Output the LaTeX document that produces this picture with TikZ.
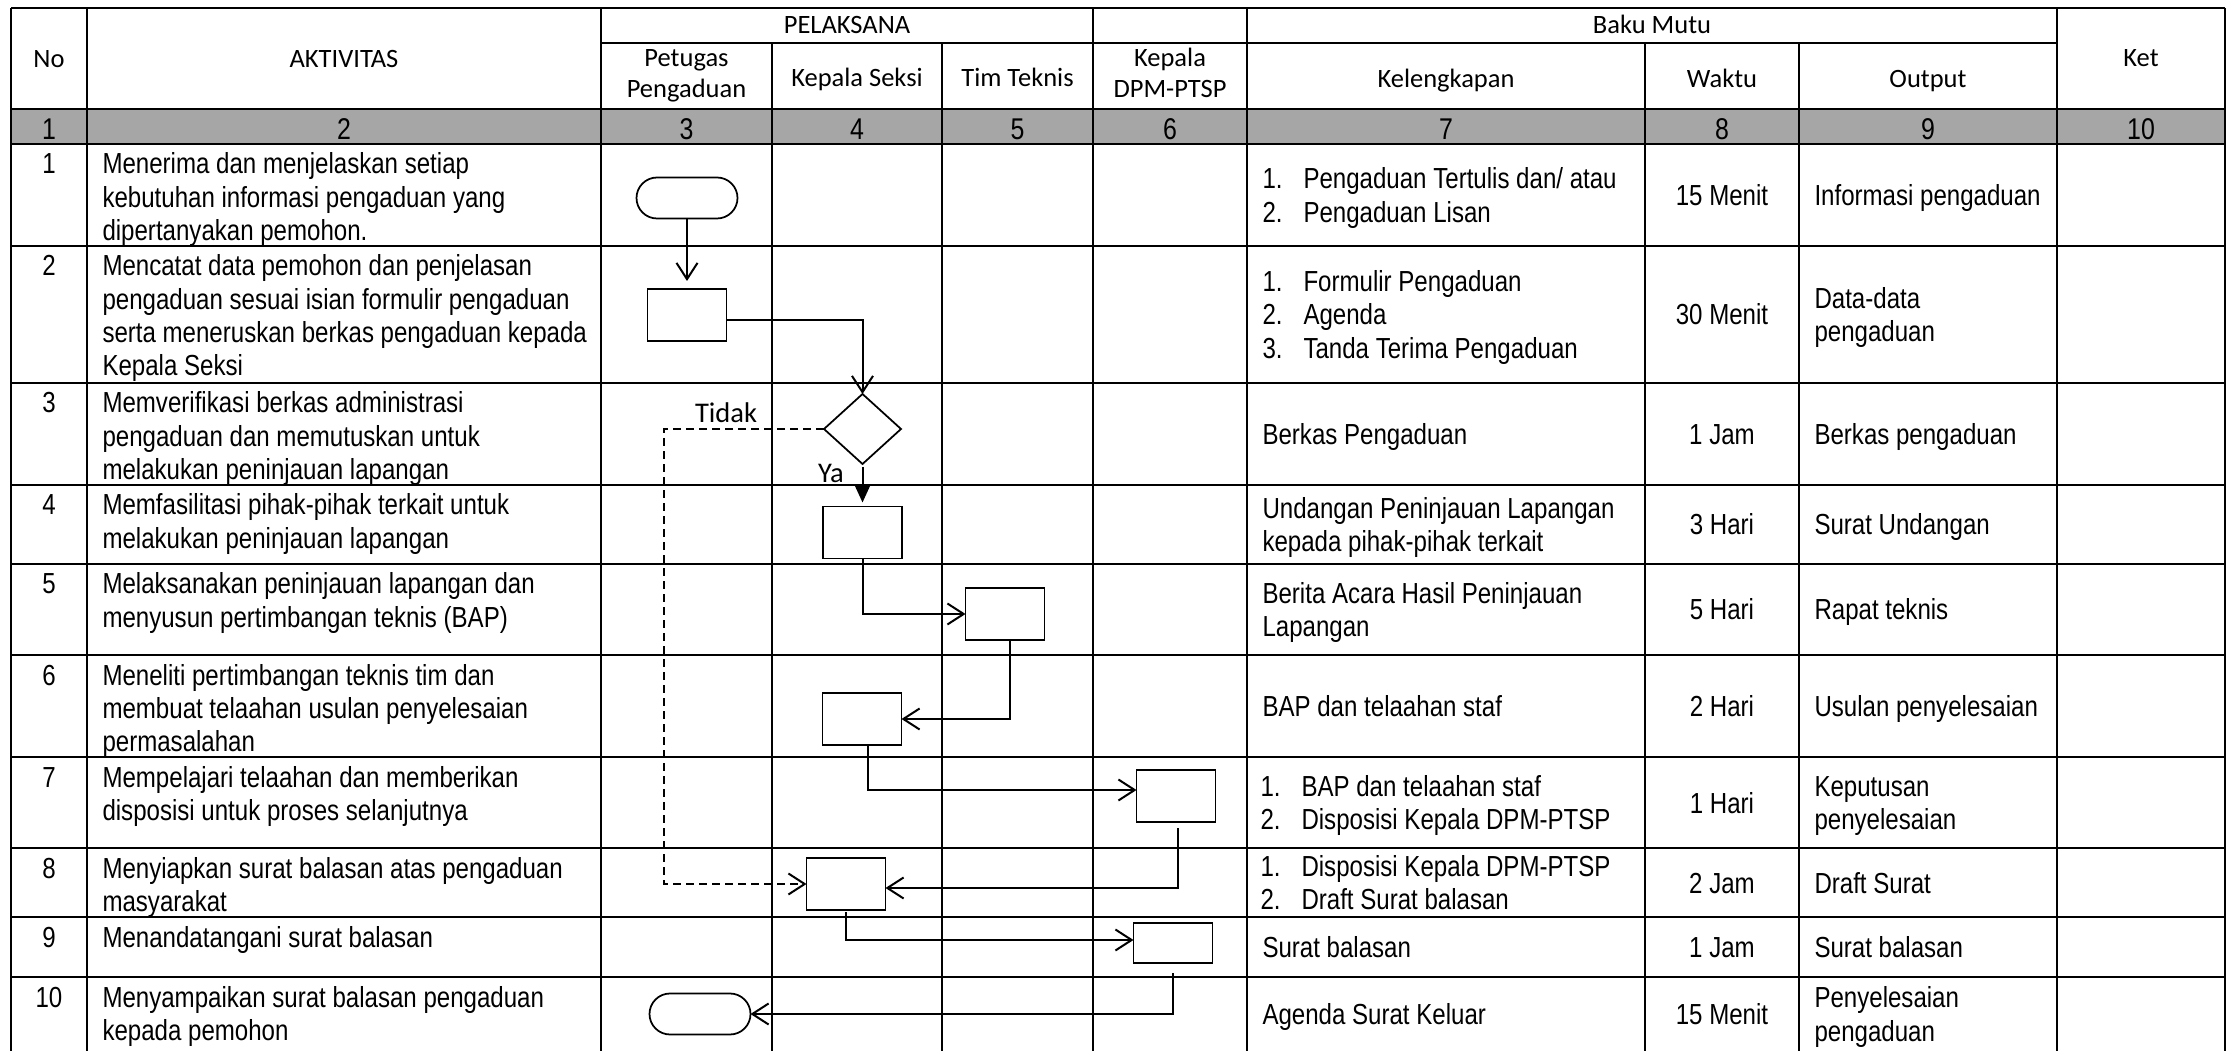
\documentclass[tikz,border=0pt]{standalone}
\usepackage{fontspec}
\setmainfont{Liberation Sans}
\newfontfamily\bodyfont{Liberation Sans}[FakeStretch=0.83]
\newfontfamily\hdrfont{Carlito}
\usetikzlibrary{arrows.meta,shapes.geometric}
\definecolor{hdrgray}{HTML}{A6A6A6}
\newcommand\mylbox[1]{\parbox[t]{240pt}{\raggedright #1}}
\newcommand\myclbox[1]{\parbox[t]{80pt}{\centering #1}}
\newcommand\mynum[1]{\makebox[16.4pt][l]{#1}}
\begin{document}
\begin{tikzpicture}[x=0.4pt,y=-0.4pt,
  gridline/.style={line width=0.95pt},
  shp/.style={draw, line width=0.7pt, inner sep=0pt, outer sep=0pt},
  pbox/.style={shp, rectangle, minimum width=31.6pt, minimum height=20.8pt},
  term/.style={shp, rectangle, rounded corners=8.2pt, minimum width=40.4pt, minimum height=16.4pt},
  dec/.style={shp, diamond, minimum width=30.8pt, minimum height=28pt},
  conn/.style={line width=0.8pt, -{Straight Barb[length=6.5pt,width=8.4pt]}},
  yesarrow/.style={line width=0.8pt, -{Triangle[length=6.8pt,width=6pt]}},
  dsh/.style={conn, dash pattern=on 3.2pt off 2pt},
  bt/.style={font=\bodyfont\fontsize{11.6}{13.3}\selectfont, inner sep=0pt},
  nt/.style={font=\bodyfont\fontsize{12}{13.3}\selectfont, inner sep=0pt},
  ht/.style={font=\hdrfont\fontsize{10.6}{12.4}\selectfont, inner sep=0pt},
  lt/.style={font=\hdrfont\fontsize{11.4}{13}\selectfont, inner sep=0pt}]
\useasboundingbox (0,0) rectangle (2234,1051);
% gray number row
\fill[hdrgray] (11,109) rectangle (2225,144);
% vertical grid lines
\foreach \xx in {11,87,601,1093,1247,2057,2225}
  \draw[gridline] (\xx,8) -- (\xx,1051);
\foreach \xx in {772,942,1645,1799}
  \draw[gridline] (\xx,43) -- (\xx,1051);
% horizontal grid lines
\draw[gridline] (601,43) -- (2057,43);
\foreach \yy in {8,109,144,246,383,485,564,655,757,848,917,977}
  \draw[gridline] (11,\yy) -- (2225,\yy);

% header texts
\node[ht, anchor=base] (hno) at (49,68) {No};
\node[ht, anchor=base] (hakt) at (344,68) {AKTIVITAS};
\node[ht, anchor=base] (hpel) at (847,34) {PELAKSANA};
\node[ht, anchor=base] (hbaku) at (1652,34) {Baku Mutu};
\node[ht, anchor=base] (hpet) at (686.5,67) {\myclbox{Petugas\\Pengaduan}};
\node[ht, anchor=base] (hkas) at (857,87) {Kepala Seksi};
\node[ht, anchor=base] (htim) at (1017.5,87) {Tim Teknis};
\node[ht, anchor=base] (hdpm) at (1170,67) {\myclbox{Kepala\\DPM-PTSP}};
\node[ht, anchor=base] (hkel) at (1446,88) {Kelengkapan};
\node[ht, anchor=base] (hwak) at (1722,88) {Waktu};
\node[ht, anchor=base] (hout) at (1928,88) {Output};
\node[ht, anchor=base] (hket) at (2141,67) {Ket};

% number row
\node[nt, anchor=base] (c1) at (49,140) {1};
\node[nt, anchor=base] (c2) at (344,140) {2};
\node[nt, anchor=base] (c3) at (686.5,140) {3};
\node[nt, anchor=base] (c4) at (857,140) {4};
\node[nt, anchor=base] (c5) at (1017.5,140) {5};
\node[nt, anchor=base] (c6) at (1170,140) {6};
\node[nt, anchor=base] (c7) at (1446,140) {7};
\node[nt, anchor=base] (c8) at (1722,140) {8};
\node[nt, anchor=base] (c9) at (1928,140) {9};
\node[nt, anchor=base] (c10) at (2141,140) {10};

% row numbers
\node[bt, anchor=base] (n1) at (49,174) {1};
\node[bt, anchor=base] (n2) at (49,276) {2};
\node[bt, anchor=base] (n3) at (49,413) {3};
\node[bt, anchor=base] (n4) at (49,515) {4};
\node[bt, anchor=base] (n5) at (49,594) {5};
\node[bt, anchor=base] (n6) at (49,685) {6};
\node[bt, anchor=base] (n7) at (49,787) {7};
\node[bt, anchor=base] (n8) at (49,878) {8};
\node[bt, anchor=base] (n9) at (49,947) {9};
\node[bt, anchor=base] (n10) at (49,1007) {10};

% activities
\node[bt, anchor=base west] (a1) at (102,174) {\mylbox{Menerima dan menjelaskan setiap\\kebutuhan informasi pengaduan yang\\dipertanyakan pemohon.}};
\node[bt, anchor=base west] (a2) at (102,276) {\mylbox{Mencatat data pemohon dan penjelasan\\pengaduan sesuai isian formulir pengaduan\\serta meneruskan berkas pengaduan kepada\\Kepala Seksi}};
\node[bt, anchor=base west] (a3) at (102,413) {\mylbox{Memverifikasi berkas administrasi\\pengaduan dan memutuskan untuk\\melakukan peninjauan lapangan}};
\node[bt, anchor=base west] (a4) at (102,515) {\mylbox{Memfasilitasi pihak-pihak terkait untuk\\melakukan peninjauan lapangan}};
\node[bt, anchor=base west] (a5) at (102,594) {\mylbox{Melaksanakan peninjauan lapangan dan\\menyusun pertimbangan teknis (BAP)}};
\node[bt, anchor=base west] (a6) at (102,685) {\mylbox{Meneliti pertimbangan teknis tim dan\\membuat telaahan usulan penyelesaian\\permasalahan}};
\node[bt, anchor=base west] (a7) at (102,787) {\mylbox{Mempelajari telaahan dan memberikan\\disposisi untuk proses selanjutnya}};
\node[bt, anchor=base west] (a8) at (102,878) {\mylbox{Menyiapkan surat balasan atas pengaduan\\masyarakat}};
\node[bt, anchor=base west] (a9) at (102,947) {\mylbox{Menandatangani surat balasan}};
\node[bt, anchor=base west] (a10) at (102,1007) {\mylbox{Menyampaikan surat balasan pengaduan\\kepada pemohon}};

% kelengkapan
\node[bt, anchor=base west] (k1) at (1262,189) {\mylbox{\mynum{1.}Pengaduan Tertulis dan/ atau\\\mynum{2.}Pengaduan Lisan}};
\node[bt, anchor=base west] (k2) at (1262,291.7) {\mylbox{\mynum{1.}Formulir Pengaduan\\\mynum{2.}Agenda\\\mynum{3.}Tanda Terima Pengaduan}};
\node[bt, anchor=base west] (k3) at (1262,444.5) {\mylbox{Berkas Pengaduan}};
\node[bt, anchor=base west] (k4) at (1262,518.4) {\mylbox{Undangan Peninjauan Lapangan\\kepada pihak-pihak terkait}};
\node[bt, anchor=base west] (k5) at (1262,603.4) {\mylbox{Berita Acara Hasil Peninjauan\\Lapangan}};
\node[bt, anchor=base west] (k6) at (1262,716.5) {\mylbox{BAP dan telaahan staf}};
\node[bt, anchor=base west] (k7) at (1260,796.4) {\mylbox{\mynum{1.}BAP dan telaahan staf\\\mynum{2.}Disposisi Kepala DPM-PTSP}};
\node[bt, anchor=base west] (k8) at (1260,876.4) {\mylbox{\mynum{1.}Disposisi Kepala DPM-PTSP\\\mynum{2.}Draft Surat balasan}};
\node[bt, anchor=base west] (k9) at (1262,957.5) {\mylbox{Surat balasan}};
\node[bt, anchor=base west] (k10) at (1262,1024.5) {\mylbox{Agenda Surat Keluar}};

% waktu
\node[bt, anchor=base] (w1) at (1722,205.5) {15 Menit};
\node[bt, anchor=base] (w2) at (1722,325) {30 Menit};
\node[bt, anchor=base] (w3) at (1722,444.5) {1 Jam};
\node[bt, anchor=base] (w4) at (1722,535) {3 Hari};
\node[bt, anchor=base] (w5) at (1722,620) {5 Hari};
\node[bt, anchor=base] (w6) at (1722,716.5) {2 Hari};
\node[bt, anchor=base] (w7) at (1722,813) {1 Hari};
\node[bt, anchor=base] (w8) at (1722,893) {2 Jam};
\node[bt, anchor=base] (w9) at (1722,957.5) {1 Jam};
\node[bt, anchor=base] (w10) at (1722,1024.5) {15 Menit};

% output
\node[bt, anchor=base west] (o1) at (1814,205.5) {\mylbox{Informasi pengaduan}};
\node[bt, anchor=base west] (o2) at (1814,308.4) {\mylbox{Data-data\\pengaduan}};
\node[bt, anchor=base west] (o3) at (1814,444.5) {\mylbox{Berkas pengaduan}};
\node[bt, anchor=base west] (o4) at (1814,535) {\mylbox{Surat Undangan}};
\node[bt, anchor=base west] (o5) at (1814,620) {\mylbox{Rapat teknis}};
\node[bt, anchor=base west] (o6) at (1814,716.5) {\mylbox{Usulan penyelesaian}};
\node[bt, anchor=base west] (o7) at (1814,796.4) {\mylbox{Keputusan\\penyelesaian}};
\node[bt, anchor=base west] (o8) at (1814,893) {\mylbox{Draft Surat}};
\node[bt, anchor=base west] (o9) at (1814,957.5) {\mylbox{Surat balasan}};
\node[bt, anchor=base west] (o10) at (1814,1007.9) {\mylbox{Penyelesaian\\pengaduan}};

% flowchart shapes
\node[term] (t1) at (687,198) {};
\node[pbox] (r2) at (687,315) {};
\node[dec] (d3) at (862.5,429) {};
\node[pbox] (r4) at (862.5,532.5) {};
\node[pbox] (r5) at (1005,614) {};
\node[pbox] (r6) at (862,719) {};
\node[pbox] (r7) at (1176,796) {};
\node[pbox] (r8) at (846,884) {};
\node[pbox, minimum height=16pt] (r9) at (1173,943) {};
\node[term] (t10) at (700,1014) {};
\coordinate (dk) at (664,884);

% labels
\node[lt, anchor=base] (ltidak) at (726,423) {Tidak};
\node[lt, anchor=base] (lya) at (831,483) {Ya};

% connectors
\draw[conn, shorten >=3.2pt] (t1.south) -- (r2.north);
\draw[conn] ([yshift=-2pt]r2.east) -| (d3.north);
\draw[dsh] (d3.west) -| (dk) -- (r8.west);
\draw[yesarrow, shorten <=1.2pt, shorten >=1.6pt] (d3.south) -- (r4.north);
\draw[conn] (r4.south) |- (r5.west);
\draw[conn] ([xshift=2pt]r5.south) |- (r6.east);
\draw[conn] ([xshift=2.4pt]r6.south) |- ([yshift=2.4pt]r7.west);
\draw[conn, shorten <=2.4pt] ([xshift=0.8pt]r7.south) |- ([yshift=-1.6pt]r8.east);
\draw[conn, shorten <=0.8pt] (r8.south) |- ([yshift=1.2pt]r9.west);
\draw[conn, shorten <=4pt] (r9.south) |- (t10.east);
\end{tikzpicture}
\end{document}
